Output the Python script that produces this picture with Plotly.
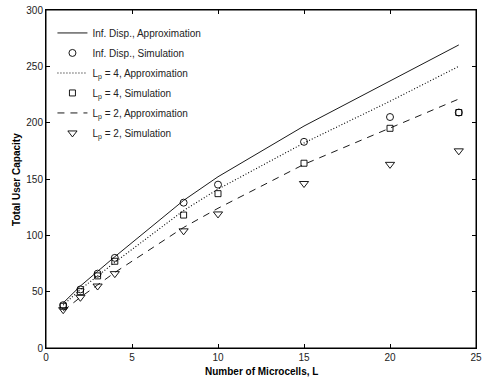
import plotly.graph_objects as go

L = [1, 2, 3, 4, 8, 10, 15, 20, 24]
inf_approx = [40, 55, 68, 81, 131, 152, 197, 237, 269]
inf_sim = [38, 52, 66, 80, 129, 145, 183, 205, 209]
lp4_approx = [38, 52, 64, 76, 122, 141, 182, 219, 250]
lp4_sim = [37, 50, 64, 77, 118, 137, 164, 195, 209]
lp2_approx = [33, 45, 56, 67, 107, 124, 163, 195, 221]
lp2_sim = [34, 45, 55, 66, 104, 119, 146, 163, 175]

x_title = "Number of Microcells, L"
y_title = "Total User Capacity"

fig = go.Figure()
fig.add_trace(go.Scatter(x=L, y=inf_approx, mode="lines", name="Inf. Disp., Approximation",
                         legendgroup="a", line=dict(color="black", width=0.9, dash="solid")))
fig.add_trace(go.Scatter(x=L, y=inf_sim, mode="markers", name="Inf. Disp., Simulation",
                         legendgroup="b",
                         marker=dict(symbol="circle-open", size=7, color="black", line=dict(width=0.9))))
fig.add_trace(go.Scatter(x=L, y=lp4_approx, mode="lines", name="L<sub>p</sub> = 4, Approximation",
                         legendgroup="c", line=dict(color="black", width=1.1, dash="1px,2px")))
fig.add_trace(go.Scatter(x=L, y=lp4_sim, mode="markers", name="L<sub>p</sub> = 4, Simulation",
                         legendgroup="d",
                         marker=dict(symbol="square-open", size=6, color="black", line=dict(width=0.9))))
fig.add_trace(go.Scatter(x=L, y=lp2_approx, mode="lines", name="L<sub>p</sub> = 2, Approximation",
                         legendgroup="e", line=dict(color="black", width=0.9, dash="7px,6px")))
fig.add_trace(go.Scatter(x=L, y=lp2_sim, mode="markers", name="L<sub>p</sub> = 2, Simulation",
                         legendgroup="f",
                         marker=dict(symbol="triangle-down-open", size=8, color="black", line=dict(width=0.9))))

axis_common = dict(showgrid=False, zeroline=False, showline=True, linecolor="black", linewidth=1,
                   mirror="ticks", ticks="inside", ticklen=4, tickcolor="black", automargin=False,
                   tickfont=dict(family="Liberation Sans, Arial", size=10, color="#222"))

fig.update_layout(
    width=485, height=384,
    margin=dict(l=46, r=9, t=10, b=36),
    paper_bgcolor="white", plot_bgcolor="white",
    font=dict(family="Liberation Sans, Arial", size=10, color="#222"),
    xaxis=dict(range=[0, 25], tickvals=[0, 5, 10, 15, 20, 25], **axis_common),
    yaxis=dict(range=[0, 300], tickvals=[0, 50, 100, 150, 200, 250, 300], **axis_common),
    legend=dict(x=0.015, y=0.975, xanchor="left", yanchor="top", bgcolor="rgba(0,0,0,0)",
                borderwidth=0, font=dict(size=10), tracegroupgap=1, itemwidth=30),
    showlegend=True,
    shapes=[dict(type="rect", xref="paper", yref="paper", x0=0, y0=0, x1=1, y1=1,
                 line=dict(color="black", width=1), fillcolor="rgba(0,0,0,0)", layer="above")],
    annotations=[
        dict(text="<b>" + x_title + "</b>", xref="paper", yref="paper", x=0.5, y=-0.071,
             xanchor="center", yanchor="middle", showarrow=False, font=dict(size=10, color="black")),
        dict(text="<b>" + y_title + "</b>", xref="paper", yref="paper", x=-0.07, y=0.5,
             xanchor="center", yanchor="middle", textangle=-90, showarrow=False,
             font=dict(size=10, color="black")),
    ],
)

fig.write_html("out.html", config={"displayModeBar": False},
               post_script="document.body.style.margin='0';document.body.style.overflow='hidden';")
